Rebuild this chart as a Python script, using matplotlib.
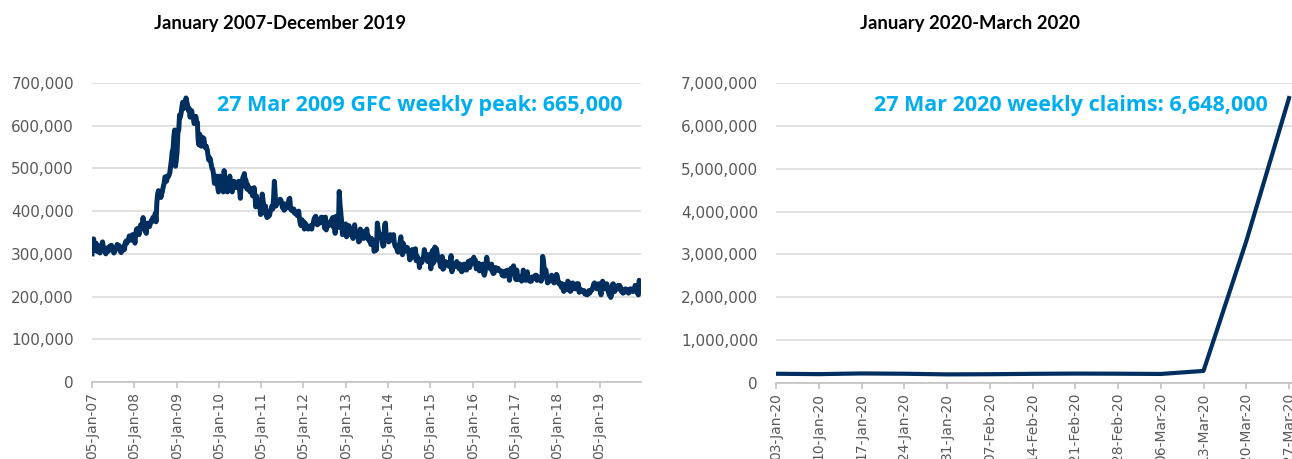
import pandas as pd
import matplotlib.pyplot as plt
from matplotlib.ticker import FuncFormatter, MultipleLocator

# Weekly initial jobless claims (thousands), one value per Friday
claims_2007 = [300, 330, 335, 312, 308, 325, 316, 305, 318, 310, 302, 315, 322,
               328, 316, 310, 305, 300, 310, 314, 306, 308, 318, 315, 320, 312,
               308, 302, 305, 312, 315, 322, 318, 320, 312, 306, 303, 312, 308,
               318, 310, 326, 330, 325, 330, 335, 342, 340, 332, 338, 345, 340]
claims_2008 = [338, 325, 348, 358, 352, 360, 345, 355, 368, 358, 362, 385, 365,
               358, 352, 348, 372, 365, 370, 364, 372, 378, 375, 385, 380, 378,
               395, 375, 420, 440, 448, 445, 440, 432, 440, 448, 458, 465, 480,
               478, 470, 482, 480, 484, 490, 505, 520, 540, 545, 575, 590, 505]
claims_2009 = [520, 540, 585, 590, 625, 620, 630, 645, 655, 640, 656, 650, 665,
               655, 648, 635, 640, 620, 630, 635, 622, 618, 605, 612, 622, 610,
               608, 565, 555, 580, 562, 552, 568, 572, 570, 555, 548, 552, 545,
               532, 520, 525, 522, 510, 500, 498, 485, 465, 478, 475, 482, 458]
claims_2010 = [445, 455, 482, 470, 478, 480, 445, 495, 468, 460, 458, 445, 462,
               458, 482, 458, 448, 445, 455, 470, 462, 456, 458, 466, 455, 470,
               452, 430, 462, 458, 478, 482, 488, 470, 472, 452, 462, 450, 455,
               445, 450, 452, 436, 438, 455, 436, 410, 435, 422, 425, 418, 412, 392]
claims_2011 = [410, 440, 425, 412, 395, 412, 392, 385, 398, 388, 390, 400,
               405, 412, 405, 430, 470, 438, 412, 425, 422, 425, 420, 428, 426,
               418, 408, 418, 402, 405, 410, 408, 418, 412, 428, 430, 405, 402, 405,
               400, 405, 395, 398, 395, 390, 395, 400, 382, 370, 366, 380, 370]
claims_2012 = [375, 358, 372, 368, 362, 360, 358, 365, 362, 365, 358, 368, 372,
               382, 386, 388, 380, 368, 372, 374, 372, 382, 386, 385, 385, 376,
               360, 386, 356, 366, 368, 366, 374, 375, 368, 382, 385, 362, 368,
               348, 388, 375, 370, 362, 446, 415, 395, 375, 345, 362, 352, 365]
claims_2013 = [370, 340, 345, 365, 366, 345, 360, 348, 342, 336, 356, 368, 350,
               348, 352, 340, 328, 330, 358, 345, 352, 346, 336, 352, 344, 343,
               358, 336, 342, 330, 334, 322, 336, 332, 330, 306, 312, 308, 310,
               372, 358, 350, 342, 338, 344, 328, 318, 320, 368, 372, 340, 338]
claims_2014 = [340, 328, 330, 345, 338, 338, 336, 345, 325, 318, 320, 312, 305,
               304, 306, 328, 340, 312, 298, 325, 305, 312, 316, 312, 315, 305,
               302, 286, 302, 290, 310, 298, 300, 304, 312, 284, 295, 288, 287,
               268, 283, 286, 280, 290, 292, 310, 298, 294, 290, 282, 298, 292]
claims_2015 = [294, 265, 300, 308, 278, 282, 316, 300, 312, 298, 290, 284, 282,
               270, 282, 294, 264, 266, 274, 282, 280, 278, 279, 272, 270, 282,
               296, 258, 268, 268, 270, 276, 278, 282, 275, 268, 265, 276, 264,
               258, 260, 262, 276, 274, 272, 262, 270, 282, 272, 268, 285, 276]
claims_2016 = [278, 285, 292, 280, 285, 265, 270, 272, 278, 260, 266, 275, 268,
               276, 255, 250, 258, 275, 292, 278, 268, 268, 266, 264, 276, 258,
               254, 255, 266, 268, 262, 262, 266, 262, 260, 259, 260, 250, 254, 248,
               248, 260, 258, 252, 262, 254, 238, 250, 266, 258, 254, 272, 262]
claims_2017 = [250, 240, 262, 248, 240, 242, 246, 244, 236, 245, 262, 258, 240,
               238, 246, 258, 240, 238, 236, 238, 236, 246, 244, 242, 246, 250,
               250, 238, 246, 242, 240, 238, 236, 240, 294, 282, 262, 258, 262,
               246, 232, 240, 242, 236, 242, 250, 240, 240, 232, 246, 248, 252]
claims_2018 = [248, 235, 230, 232, 228, 222, 230, 220, 212, 228, 226, 228, 216,
               236, 230, 232, 212, 214, 222, 232, 222, 222, 218, 226, 230, 226,
               230, 210, 218, 216, 214, 212, 212, 214, 206, 206, 208, 204, 210,
               214, 208, 212, 216, 216, 222, 230, 232, 226, 226, 218, 222, 230]
claims_2019 = [218, 214, 204, 232, 236, 230, 226, 218, 224, 230, 222, 212, 204,
               202, 198, 204, 228, 230, 226, 212, 216, 218, 220, 226, 218, 226,
               222, 212, 216, 208, 216, 210, 218, 216, 216, 212, 208, 214, 218,
               218, 216, 212, 212, 216, 226, 224, 214, 208, 204, 238, 232, 222]

weekly_claims = (claims_2007 + claims_2008 + claims_2009 + claims_2010 + claims_2011
                 + claims_2012 + claims_2013 + claims_2014 + claims_2015 + claims_2016
                 + claims_2017 + claims_2018 + claims_2019)
weekly_claims = [v * 1000 for v in weekly_claims]
weeks = pd.date_range('2007-01-05', periods=len(weekly_claims), freq='7D')
year_ticks = pd.to_datetime([f'{y}-01-05' for y in range(2007, 2020)])

covid_weeks = ['03-Jan-20', '10-Jan-20', '17-Jan-20', '24-Jan-20', '31-Jan-20',
               '07-Feb-20', '14-Feb-20', '21-Feb-20', '28-Feb-20', '06-Mar-20',
               '13-Mar-20', '20-Mar-20', '27-Mar-20']
covid_claims = [216000, 207000, 223000, 216000, 201000, 205000, 214000,
                220000, 217000, 211000, 282000, 3307000, 6648000]

navy = '#002F5F'
cyan = '#00AEEF'
grid_grey = '#D9D9D9'
label_grey = '#595959'

plt.rcParams['font.family'] = ['DejaVu Sans']

fig = plt.figure(figsize=(12.92, 4.59), dpi=100)
ax1 = fig.add_axes([92 / 1292, 77 / 459, 549 / 1292, 299 / 459])
ax2 = fig.add_axes([776 / 1292, 76 / 459, 516 / 1292, 300 / 459])

comma = FuncFormatter(lambda v, p: f'{v:,.0f}')

# left panel: 2007-2019
ax1.plot(weeks, weekly_claims, color=navy, linewidth=3.6, solid_joinstyle='round')
ax1.set_xlim(weeks[0], weeks[-1] + pd.Timedelta(days=2))
ax1.set_ylim(0, 700000)
ax1.yaxis.set_major_locator(MultipleLocator(100000))
ax1.set_xticks(year_ticks)
ax1.set_xticklabels([d.strftime('%d-%b-%y') for d in year_ticks], rotation=90)
ax1.text(0.967, 0.924, '27 Mar 2009 GFC weekly peak: 665,000', transform=ax1.transAxes,
         ha='right', va='center', color=cyan, fontsize=15.5, fontweight='bold',
         family='Open Sans')

# right panel: Jan-Mar 2020
x2 = list(range(len(covid_weeks)))
ax2.plot(x2, covid_claims, color=navy, linewidth=3.0, solid_joinstyle='round')
ax2.set_xlim(0, len(covid_weeks) - 1 + 0.07)
ax2.set_ylim(0, 7000000)
ax2.yaxis.set_major_locator(MultipleLocator(1000000))
ax2.set_xticks(x2)
ax2.set_xticklabels(covid_weeks, rotation=90)
ax2.text(0.953, 0.924, '27 Mar 2020 weekly claims: 6,648,000', transform=ax2.transAxes,
         ha='right', va='center', color=cyan, fontsize=15.5, fontweight='bold',
         family='Open Sans')

for ax in (ax1, ax2):
    ax.yaxis.set_major_formatter(comma)
    ax.grid(axis='y', color=grid_grey, linewidth=1.1)
    ax.set_axisbelow(True)
    for side in ('top', 'right', 'left'):
        ax.spines[side].set_visible(False)
    ax.spines['bottom'].set_color('#BFBFBF')
    ax.spines['bottom'].set_linewidth(1.1)
    ax.tick_params(axis='y', length=0, pad=13, labelsize=11, labelcolor=label_grey)
    ax.tick_params(axis='x', length=4, width=1.1, color='#BFBFBF', pad=3,
                   labelsize=10, labelcolor=label_grey)

fig.text(280 / 1292, 1 - 24 / 459, 'January 2007-December 2019', ha='center', va='center',
         fontsize=13.3, fontweight='bold', family='Lato', color='black')
fig.text(970 / 1292, 1 - 24 / 459, 'January 2020-March 2020', ha='center', va='center',
         fontsize=13.3, fontweight='bold', family='Lato', color='black')

fig.savefig('out.png', dpi=100)
